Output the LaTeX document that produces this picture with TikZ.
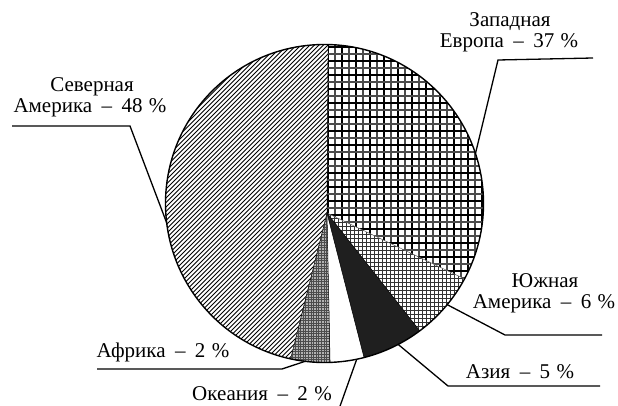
\documentclass[tikz,border=0pt]{standalone}
\usepackage{fontspec}
\setmainfont{Liberation Serif}
\newcommand\dsh{\hspace{0.45em}–\hspace{0.45em}}
\newcommand\pct{\hspace{0.3em}\%}
\begin{document}
\begin{tikzpicture}[x=1pt,y=1pt,
  lbl/.style={font=\fontsize{21}{21}\selectfont, inner sep=0pt, anchor=base},
  leader/.style={line width=1.3pt, line join=miter},
  rim/.style={line width=1.4pt},
  edge/.style={line width=0.5pt}]
\useasboundingbox (0,0) rectangle (618,405);
\coordinate (C) at (324.5,201.5);
\coordinate (A) at (327,192);
% North America: diagonal hatching
\begin{scope}
  \clip (A) -- ([shift={(-102.3:159pt)}]C) arc[start angle=-102.3, end angle=-271.3, radius=159pt] -- cycle;
  \foreach \i in {-90,...,40} \draw[line width=0.8pt] (160+4.5*\i,30) -- ++(390,390);
\end{scope}
% Western Europe: coarse grid
\begin{scope}
  \clip (A) -- ([shift={(88.7:159pt)}]C) arc[start angle=88.7, end angle=-28.3, radius=159pt] -- cycle;
  \foreach \i in {0,2,...,24} \draw[line width=1.1pt] (328+7*\i,100) -- (328+7*\i,370);
  \foreach \i in {1,3,...,25} \draw[line width=1.1pt, black!70] (328+7*\i,100) -- (328+7*\i,370);
  \foreach \j in {0,2,...,40} \draw[line width=1.1pt] (320,358-7*\j) -- (490,358-7*\j);
  \foreach \j in {1,3,...,41} \draw[line width=1.1pt, black!70] (320,358-7*\j) -- (490,358-7*\j);
\end{scope}
% South America: fine grid
\begin{scope}
  \clip (A) -- ([shift={(-28.3:159pt)}]C) arc[start angle=-28.3, end angle=-53.2, radius=159pt] -- cycle;
  \foreach \i in {0,...,40} \draw[line width=0.5pt, black!80] (326+4*\i,60) -- (326+4*\i,200);
  \foreach \j in {0,...,36} \draw[line width=0.5pt, black!80] (320,195-4*\j) -- (490,195-4*\j);
\end{scope}
% Asia: black
\fill[black!88] (A) -- ([shift={(-53.2:159pt)}]C) arc[start angle=-53.2, end angle=-75.6, radius=159pt] -- cycle;
% Africa: dotted mesh
\begin{scope}
  \clip (A) -- ([shift={(-88:159pt)}]C) arc[start angle=-88, end angle=-102.3, radius=159pt] -- cycle;
  \fill[black!30] (280,30) rectangle (340,200);
  \foreach \i in {0,...,25} \draw[line width=0.8pt, black!70] (285+2.6*\i,30) -- (285+2.6*\i,200);
  \foreach \j in {0,...,65} \draw[line width=0.8pt, black!70] (280,35+2.6*\j) -- (340,35+2.6*\j);
\end{scope}
% slice edges
\draw[edge] (A) -- ([shift={(88.7:159pt)}]C);
\draw[edge, black!60] (A) -- ([shift={(-28.3:159pt)}]C);
\draw[edge] (A) -- ([shift={(-53.2:159pt)}]C);
\draw[edge] (A) -- ([shift={(-75.6:159pt)}]C);
\draw[edge] (A) -- ([shift={(-88:159pt)}]C);
\draw[edge] (A) -- ([shift={(-102.3:159pt)}]C);
\draw[rim] (C) circle[radius=159pt];
% leader anchor points on the rim
\coordinate (euP) at ([shift={(18.3:159pt)}]C);
\coordinate (naP) at ([shift={(187:159pt)}]C);
\coordinate (saP) at ([shift={(-39.5:159pt)}]C);
\coordinate (asP) at ([shift={(-62.4:159pt)}]C);
\coordinate (afP) at ([shift={(-97:159pt)}]C);
\coordinate (ocP) at ([shift={(-78.3:159pt)}]C);
\coordinate (euK) at (498,345);
\coordinate (euE) at (593,347);
\coordinate (naK) at (130,279);
\coordinate (naE) at (12,279);
\coordinate (saK) at (505,70);
\coordinate (saE) at (602,70);
\coordinate (asK) at (448,19);
\coordinate (asE) at (600,19);
\coordinate (afK) at (282,36);
\coordinate (afE) at (97,36);
\coordinate (ocE) at (339,-4);
\draw[leader] (euP) -- (euK) -- (euE);
\draw[leader] (naP) -- (naK) -- (naE);
\draw[leader] (saP) -- (saK) -- (saE);
\draw[leader] (asP) -- (asK) -- (asE);
\draw[leader] (afP) -- (afK) -- (afE);
\draw[leader] (ocP) -- (ocE);
% labels
\node[lbl] (eu1) at (510,378) {Западная};
\node[lbl] (eu2) at (509,357) {Европа\dsh 37\pct};
\node[lbl] (na1) at (92,313) {Северная};
\node[lbl] (na2) at (90,292) {Америка\dsh 48\pct};
\node[lbl] (sa1) at (545,118) {Южная};
\node[lbl] (sa2) at (544,97) {Америка\dsh 6\pct};
\node[lbl] (as1) at (520,27) {Азия\dsh 5\pct};
\node[lbl] (af1) at (163,48) {Африка\dsh 2\pct};
\node[lbl] (oc1) at (262,5) {Океания\dsh 2\pct};
\end{tikzpicture}
\end{document}
